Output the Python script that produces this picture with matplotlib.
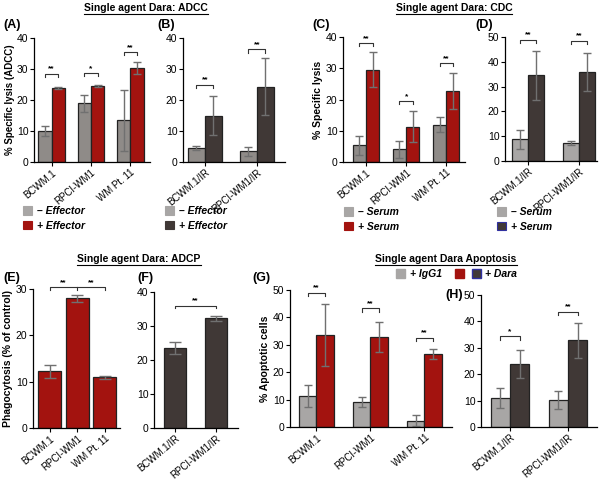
import numpy as np
import matplotlib
matplotlib.use("Agg")
import matplotlib.pyplot as plt
from matplotlib.patches import Patch
from matplotlib.lines import Line2D

plt.rcParams['font.family'] = ['Liberation Sans', 'DejaVu Sans']

# --- datos ---
cat_wm = ["BCWM.1", "RPCI-WM1", "WM Pt. 11"]
cat_ir = ["BCWM.1/IR", "RPCI-WM1/IR"]

# (A) ADCC
a_neg = [10.0, 18.9, 13.4]; a_neg_err = [1.6, 2.8, 9.9]
a_pos = [23.9, 24.4, 30.2]; a_pos_err = [0.2, 0.3, 1.9]
a_sig = ["**", "*", "**"]; a_br = [28.5, 28.7, 35.4]
# (B) ADCC IR
b_neg = [4.5, 3.4]; b_neg_err = [0.7, 1.6]
b_pos = [14.9, 24.3]; b_pos_err = [6.3, 9.2]
b_sig = ["**", "**"]; b_br = [24.9, 36.3]
# (C) CDC
c_neg = [5.4, 4.1, 12.0]; c_neg_err = [3.0, 2.7, 2.5]
c_pos = [29.6, 11.3, 22.8]; c_pos_err = [5.6, 5.0, 5.7]
c_sig = ["**", "*", "**"]; c_br = [38.0, 19.5, 31.6]
# (D) CDC IR
d_neg = [8.8, 7.1]; d_neg_err = [3.8, 0.8]
d_pos = [34.5, 35.8]; d_pos_err = [9.9, 7.7]
d_sig = ["**", "**"]; d_br = [48.9, 48.4]
# (E) ADCP
e_val = [12.2, 28.0, 10.9]; e_err = [1.4, 0.7, 0.4]
# (F) ADCP IR
f_val = [23.6, 32.3]; f_err = [1.8, 0.7]
# (G) Apoptosis
g_neg = [11.3, 9.1, 2.3]; g_neg_err = [4.1, 1.8, 1.9]
g_pos = [33.7, 32.7, 26.7]; g_pos_err = [11.3, 5.5, 1.9]
g_sig = ["**", "**", "**"]; g_br = [49.0, 43.3, 32.6]
# (H) Apoptosis IR
h_neg = [11.1, 10.2]; h_neg_err = [3.8, 3.4]
h_pos = [23.8, 32.9]; h_pos_err = [5.3, 6.6]
h_sig = ["*", "**"]; h_br = [34.4, 43.7]

GRIS = "#8f8b88"
GRIS_CL = "#a8a6a5"
ROJO = "#a3130f"
OSCURO = "#403836"
ERR = "#707070"

W, H = 600, 480
fig = plt.figure(figsize=(6, 4.8), dpi=100)


def ejes(x0, x1, y0, ytop, xlim, ymax, yticks):
    ax = fig.add_axes([x0 / W, (H - y0) / H, (x1 - x0) / W, (y0 - ytop) / H])
    ax.set_xlim(*xlim)
    ax.set_ylim(0, ymax)
    ax.set_yticks(yticks)
    for s in ["top", "right"]:
        ax.spines[s].set_visible(False)
    for s in ["left", "bottom"]:
        ax.spines[s].set_linewidth(0.9)
    ax.tick_params(axis="y", labelsize=7.5, length=3, width=0.8, pad=1)
    ax.tick_params(axis="x", labelsize=7, length=3, width=0.8, pad=1)
    return ax


def pares(ax, cats, neg, neg_err, pos, pos_err, c_neg, c_pos, ancho, sig, br, dh):
    x = np.arange(len(cats))
    ax.bar(x - ancho / 2, neg, ancho, color=c_neg, edgecolor="#222222", linewidth=0.9)
    ax.bar(x + ancho / 2, pos, ancho, color=c_pos, edgecolor="#222222", linewidth=0.9)
    ax.errorbar(x - ancho / 2, neg, yerr=neg_err, fmt="none", ecolor=ERR, elinewidth=1, capsize=3, capthick=1)
    ax.errorbar(x + ancho / 2, pos, yerr=pos_err, fmt="none", ecolor=ERR, elinewidth=1, capsize=3, capthick=1)
    ax.set_xticks(x)
    ax.set_xticklabels(cats, rotation=40, ha="right", rotation_mode="anchor")
    for xi, s, h in zip(x, sig, br):
        xa, xb = xi - ancho / 2, xi + ancho / 2
        ax.plot([xa, xa, xb, xb], [h - dh, h, h, h - dh], color="#333333", lw=0.8, clip_on=False)
        ax.text(xi, h + dh * 0.4, s, ha="center", va="bottom", fontsize=6, fontweight="bold", clip_on=False)


# (A)
axA = ejes(34, 150, 162, 38, (-0.45, 2.5), 40, [0, 10, 20, 30, 40])
pares(axA, cat_wm, a_neg, a_neg_err, a_pos, a_pos_err, GRIS, ROJO, 0.34, a_sig, a_br, 1.0)
axA.set_ylabel("% Specific lysis (ADCC)", fontsize=7, fontweight="bold", labelpad=1)
# (B)
axB = ejes(183, 285, 162, 38, (-0.42, 1.54), 40, [0, 10, 20, 30, 40])
pares(axB, cat_ir, b_neg, b_neg_err, b_pos, b_pos_err, GRIS, OSCURO, 0.33, b_sig, b_br, 1.0)
# (C)
axC = ejes(343, 465, 162, 37, (-0.575, 2.47), 40, [0, 10, 20, 30, 40])
pares(axC, cat_wm, c_neg, c_neg_err, c_pos, c_pos_err, GRIS, ROJO, 0.33, c_sig, c_br, 1.0)
axC.set_ylabel("% Specific lysis", fontsize=7.5, fontweight="bold", labelpad=2)
# (D)
axD = ejes(505, 597, 161, 37, (-0.45, 1.35), 50, [0, 10, 20, 30, 40, 50])
pares(axD, cat_ir, d_neg, d_neg_err, d_pos, d_pos_err, GRIS_CL, OSCURO, 0.32, d_sig, d_br, 1.3)

# (E)
axE = ejes(33, 120, 428, 289, (-0.62, 2.56), 30, [0, 10, 20, 30])
xe = np.arange(len(cat_wm))
axE.bar(xe, e_val, 0.84, color=ROJO, edgecolor="#222222", linewidth=0.9)
axE.errorbar(xe, e_val, yerr=e_err, fmt="none", ecolor=ERR, elinewidth=1, capsize=4, capthick=1)
axE.set_xticks(xe)
axE.set_xticklabels(cat_wm, rotation=40, ha="right", rotation_mode="anchor")
axE.set_ylabel("Phagocytosis (% of control)", fontsize=7.5, fontweight="bold", labelpad=2)
axE.plot([xe[0], xe[0], xe[2], xe[2]], [29.8, 30.4, 30.4, 29.8], color="#333333", lw=0.8, clip_on=False)
axE.plot([xe[1], xe[1]], [30.4, 29.8], color="#333333", lw=0.8, clip_on=False)
axE.text((xe[0] + xe[1]) / 2, 30.6, "**", ha="center", va="bottom", fontsize=6, fontweight="bold")
axE.text((xe[1] + xe[2]) / 2, 30.6, "**", ha="center", va="bottom", fontsize=6, fontweight="bold")

# (F)
axF = ejes(154, 238, 428, 292, (-0.51, 1.54), 40, [0, 10, 20, 30, 40])
xf = np.arange(len(cat_ir))
axF.bar(xf, f_val, 0.54, color=OSCURO, edgecolor="#222222", linewidth=0.9)
axF.errorbar(xf, f_val, yerr=f_err, fmt="none", ecolor=ERR, elinewidth=1, capsize=4, capthick=1)
axF.set_xticks(xf)
axF.set_xticklabels(cat_ir, rotation=40, ha="right", rotation_mode="anchor")
axF.plot([xf[0], xf[0], xf[1], xf[1]], [35.2, 36, 36, 35.2], color="#333333", lw=0.8)
axF.text(0.5, 36.3, "**", ha="center", va="bottom", fontsize=6, fontweight="bold")

# (G)
axG = ejes(290, 452, 427, 290, (-0.49, 2.51), 50, [0, 10, 20, 30, 40, 50])
pares(axG, cat_wm, g_neg, g_neg_err, g_pos, g_pos_err, GRIS_CL, ROJO, 0.32, g_sig, g_br, 1.3)
axG.set_ylabel("% Apoptotic cells", fontsize=7.5, fontweight="bold", labelpad=2)
# (H)
axH = ejes(481, 597, 427, 295, (-0.5, 1.5), 50, [0, 10, 20, 30, 40, 50])
pares(axH, cat_ir, h_neg, h_neg_err, h_pos, h_pos_err, GRIS_CL, OSCURO, 0.33, h_sig, h_br, 1.3)

# --- etiquetas de panel ---
for lbl, px, py in [("(A)", 3, 25), ("(B)", 157, 25), ("(C)", 312, 25), ("(D)", 475, 25),
                    ("(E)", 3, 278), ("(F)", 137, 278), ("(G)", 252, 278), ("(H)", 445, 295)]:
    fig.text(px / W, 1 - py / H, lbl, fontsize=9, fontweight="bold", va="center", ha="left")

# --- titulos subrayados ---
rend = fig.canvas.get_renderer()
for tit, cx, cy in [("Single agent Dara: ADCC", 146, 8), ("Single agent Dara: CDC", 454, 8),
                    ("Single agent Dara: ADCP", 139, 259), ("Single agent Dara Apoptosis", 446, 259)]:
    t = fig.text(cx / W, 1 - cy / H, tit, fontsize=7.5, fontweight="bold", ha="center", va="center")
    bb = t.get_window_extent(renderer=rend)
    yl = (bb.y0 - 1) / H
    fig.add_artist(Line2D([bb.x0 / W, bb.x1 / W], [yl, yl], color="black", lw=0.8))


# --- leyendas ---
def leyenda(px, py, items):
    handles = [Patch(facecolor=c, edgecolor=e, linewidth=0.8) for c, e, _ in items]
    fig.legend(handles, [t for _, _, t in items], loc="upper left",
               bbox_to_anchor=(px / W, 1 - py / H), frameon=False,
               prop={"size": 7.5, "weight": "bold", "style": "italic"},
               handlelength=0.9, handleheight=0.9, handletextpad=0.4,
               labelspacing=0.45, borderpad=0, borderaxespad=0)


leyenda(23, 206, [(GRIS_CL, GRIS_CL, "– Effector"), (ROJO, ROJO, "+ Effector")])
leyenda(165, 206, [(GRIS_CL, GRIS_CL, "– Effector"), (OSCURO, OSCURO, "+ Effector")])
leyenda(344, 207, [(GRIS_CL, GRIS_CL, "– Serum"), (ROJO, ROJO, "+ Serum")])
leyenda(497, 207, [(GRIS_CL, GRIS_CL, "– Serum"), (OSCURO, "#3030a0", "+ Serum")])

# leyenda (G)/(H)
fig.legend([Patch(facecolor=GRIS_CL, edgecolor=GRIS_CL)], ["+ IgG1"], loc="center left",
           bbox_to_anchor=(396 / W, 1 - 274 / H), frameon=False,
           prop={"size": 7.5, "weight": "bold", "style": "italic"},
           handlelength=0.9, handleheight=0.9, handletextpad=0.4, borderpad=0, borderaxespad=0)
fig.legend([(Patch(facecolor=ROJO, edgecolor=ROJO)), Patch(facecolor=OSCURO, edgecolor="#3030a0")],
           ["", "+ Dara"], loc="center left", ncol=2,
           bbox_to_anchor=(455 / W, 1 - 274 / H), frameon=False,
           prop={"size": 7.5, "weight": "bold", "style": "italic"},
           handlelength=0.9, handleheight=0.9, handletextpad=0.4, columnspacing=0.3,
           borderpad=0, borderaxespad=0)

plt.savefig("out.png", dpi=100)
